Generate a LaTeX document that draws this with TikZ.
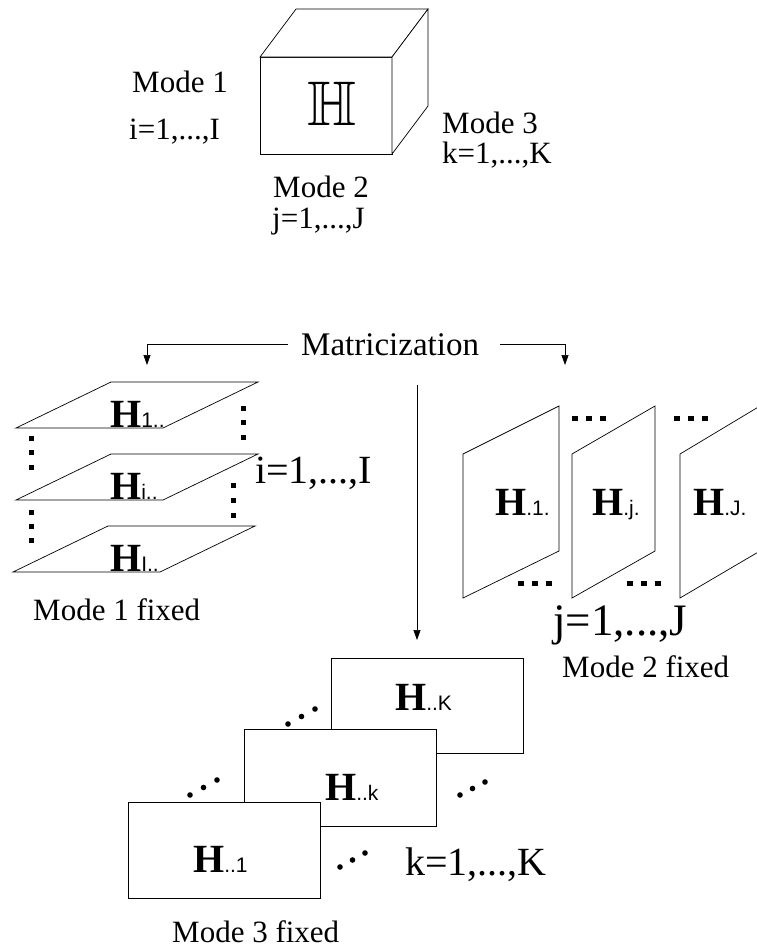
\documentclass[tikz,border=0pt]{standalone}
\usepackage{amssymb}
\usepackage{fontspec}
\setmainfont{Liberation Serif}
\setsansfont{Liberation Sans}
\usepackage{tikz}
\usetikzlibrary{calc,positioning,arrows.meta}

\newcommand{\Hsl}[1]{{\fontsize{40}{44}\selectfont\bfseries H}{\sffamily\fontsize{21}{24}\selectfont #1}}

\begin{document}
\begin{tikzpicture}[x=1pt,y=-1pt,
  rot/.style={inner sep=0pt, anchor=base west, font=\fontsize{31}{36}\selectfont},
  ind/.style={inner sep=0pt, anchor=base west, font=\fontsize{40}{44}\selectfont},
  fat/.style={draw, fill=white, line width=0.7pt},
  ar/.style={-{Triangle[length=10pt,width=7pt]}, line width=0.7pt}]
  \useasboundingbox (0,0) rectangle (756,951);

  % the tensor
  \draw[fat] (260,57) rectangle (392,154);
  \draw[fat] (260,57) -- ++(36,-48) -- ++(132,0) -- ++(-36,48) -- cycle;
  \draw[fat] (392,57) -- ++(36,-48) -- ++(0,97) -- ++(-36,48) -- cycle;
  \node[anchor=base, inner sep=0pt, scale=6.3] (tens) at (332,125) {$\mathbb{H}$};
  \node[rot] (m1) at (132,92) {Mode 1};
  \node[rot] (r1) at (129,139) {i=1,...,I};
  \node[rot] (m2) at (273,197) {Mode 2};
  \node[rot] (r2) at (272,228) {j=1,...,J};
  \node[rot] (m3) at (442,133) {Mode 3};
  \node[rot] (r3) at (442,163) {k=1,...,K};

  % matricization arrows
  \node[rot, font=\fontsize{33}{38}\selectfont] (mat) at (301,355) {Matricization};
  \coordinate (in1) at (147,365);
  \coordinate (in2) at (565,365);
  \coordinate (out3) at (417,385);
  \coordinate (in3) at (417,640);
  \draw[ar] ([xshift=-13pt]mat.west) -| (in1);
  \draw[ar] ([xshift=21pt]mat.east) -| (in2);
  \draw[ar] (out3) -- (in3);

  % mode 1 fixed
  \foreach \x/\y/\s [count=\n] in {16/428/1.., 16/500/i.., 13/572/I..}{
    \draw[fat] (\x,\y) -- ++(147,0) -- ++(95,-46) -- ++(-147,0) -- cycle;
    \node[inner sep=0pt, anchor=base west] (hi\n) at (110,\y-1) {\Hsl{\s}};}
  \foreach \x/\y in {31/438,31/452,31/467,31/512,31/526,31/540,
                     243/408,243/422,243/437,233/485,233/500,233/515}
    \fill (\x-2.5,\y-2.5) rectangle ++(5,5);
  \node[ind] (ri) at (255,483) {i=1,...,I};
  \node[rot] (f1) at (33,620) {Mode 1 fixed};

  % mode 2 fixed
  \foreach \x/\w/\lx/\s [count=\n] in {463/96/495/.1., 572/83/592/.j., 680/80/693/.J.}{
    \draw[fat] (\x,598) -- (\x,454) -- ++(\w,-48) -- ++(0,145) -- cycle;
    \node[inner sep=0pt, anchor=base west] (hj\n) at (\lx,515) {\Hsl{\s}};}
  \foreach \x/\y in {575/418,589/418,603/418,677/418,691/418,705/418,
                     521/583,535/583,549/583,630/583,644/583,658/583}
    \fill (\x-3,\y-2.5) rectangle ++(6,5);
  \node[ind, font=\fontsize{45}{50}\selectfont] (rj) at (553,635) {j=1,...,J};
  \node[rot] (f2) at (562,677) {Mode 2 fixed};

  % mode 3 fixed
  \draw[fat] (331,658) rectangle (523,753);
  \draw[fat] (244,729) rectangle (436,826);
  \draw[fat] (128,802) rectangle (320,898);
  \node[inner sep=0pt, anchor=base west] (hk3) at (395,710) {\Hsl{..K}};
  \node[inner sep=0pt, anchor=base west] (hk2) at (325,800) {\Hsl{..k}};
  \node[inner sep=0pt, anchor=base west] (hk1) at (193,872) {\Hsl{..1}};
  \foreach \ax/\ay/\bx/\by in {190/795/217/780, 288/724/315/709,
                               460/795/485/782, 340/867/365/853}
    \foreach \t in {0,0.5,1}
      \fill ($(\ax,\ay)!\t!(\bx,\by)$) circle (2.8pt);
  \node[ind] (rk) at (405,875) {k=1,...,K};
  \node[rot] (f3) at (172,942) {Mode 3 fixed};
\end{tikzpicture}
\end{document}
